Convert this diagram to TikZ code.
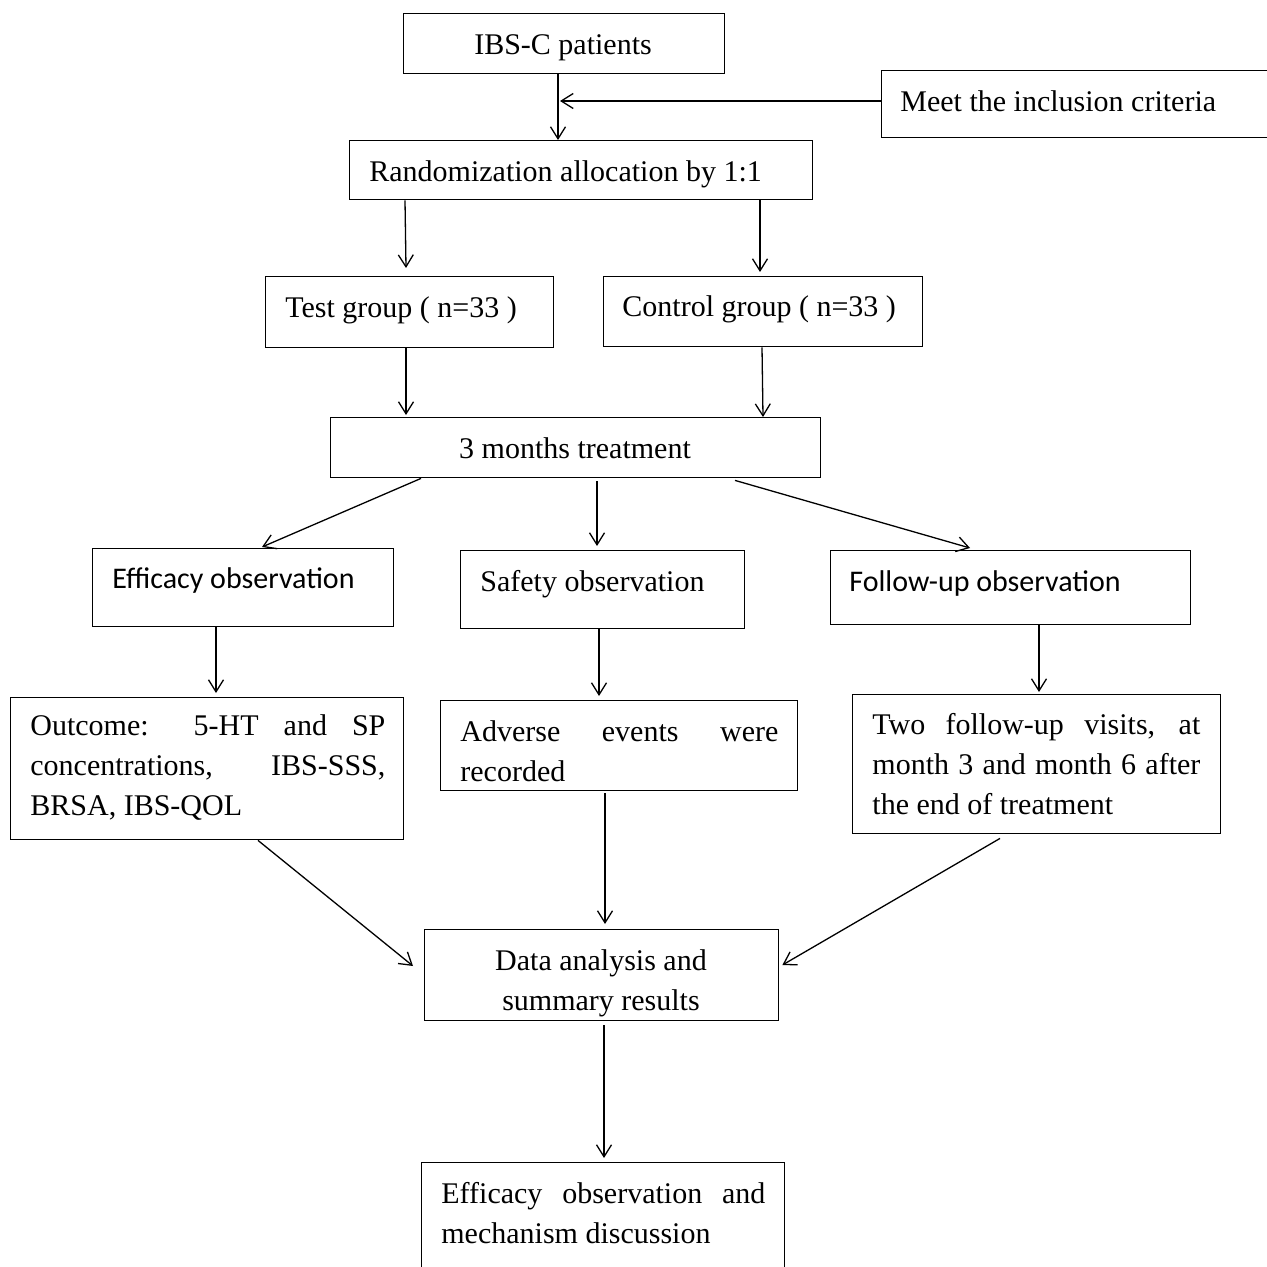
\documentclass[tikz,border=0pt]{standalone}
\usepackage{fontspec}
\setmainfont{Liberation Serif}
\newfontfamily\calib{Carlito}
\usetikzlibrary{arrows.meta,calc}
\begin{document}
\begin{tikzpicture}[x=0.5pt,y=-0.5pt,
  box/.style={draw,line width=0.7pt,inner sep=0pt,anchor=north west},
  txt/.style={inner sep=0pt,font=\fontsize{15pt}{20pt}\selectfont},
  arr/.style={line width=0.65pt,-{Straight Barb[length=6pt,width=7.5pt,line width=0.65pt]}}]
\useasboundingbox (0,0) rectangle (1266,1267);
% boxes
\node[box,minimum width=160.5pt,minimum height=30pt] (pat) at (403,13) {};
\node[box,minimum width=210pt,minimum height=33.5pt] (inc) at (881,70) {};
\node[box,minimum width=231.5pt,minimum height=29.5pt] (rand) at (349,140) {};
\node[box,minimum width=144pt,minimum height=35.5pt] (test) at (265,276) {};
\node[box,minimum width=159.5pt,minimum height=35pt] (ctrl) at (603,276) {};
\node[box,minimum width=245pt,minimum height=30pt] (treat) at (330,417) {};
\node[box,minimum width=150.5pt,minimum height=39pt] (eff) at (92,548) {};
\node[box,minimum width=142pt,minimum height=39pt] (saf) at (460,550) {};
\node[box,minimum width=180pt,minimum height=37pt] (fol) at (830,550) {};
\node[box,minimum width=196.5pt,minimum height=71pt] (out) at (10,697) {};
\node[box,minimum width=178.5pt,minimum height=45pt] (adv) at (440,700) {};
\node[box,minimum width=184pt,minimum height=69.5pt] (two) at (852,694) {};
\node[box,minimum width=177pt,minimum height=45.5pt] (data) at (424,929) {};
\node[box,minimum width=181.5pt,minimum height=60pt] (fin) at (421,1162) {};
% texts
\node[txt,anchor=base] (tpat) at (563,55) {IBS-C patients};
\node[txt,anchor=base west] (tinc) at (900,112) {Meet the inclusion criteria};
\node[txt,anchor=base west] (trand) at (369,182) {Randomization allocation by 1:1};
\node[txt,anchor=base west] (ttest) at (285,318) {Test group ( n=33 )};
\node[txt,anchor=base west] (tctrl) at (622,316) {Control group ( n=33 )};
\node[txt,anchor=base] (ttreat) at (575,458) {3 months treatment};
\node[txt,anchor=base west,font=\calib\fontsize{15pt}{20pt}\selectfont] (teff) at (112,588) {Efficacy observation};
\node[txt,anchor=base west] (tsaf) at (480,591) {Safety observation};
\node[txt,anchor=base west,font=\calib\fontsize{15pt}{20pt}\selectfont] (tfol) at (849,591) {Follow-up observation};
\node[txt,anchor=base west] (tout) at (30,735) {\parbox[t]{177.5pt}{\makebox[177.5pt][s]{Outcome: 5-HT and SP}\\
  \makebox[177.5pt][s]{concentrations, IBS-SSS,}\\BRSA, IBS-QOL}};
\node[txt,anchor=base west] (tadv) at (460,741) {\parbox[t]{159pt}{\makebox[159pt][s]{Adverse events were}\\recorded}};
\node[txt,anchor=base west] (ttwo) at (872,734) {\parbox[t]{164pt}{\makebox[164pt][s]{Two follow-up visits, at}\\
  \makebox[164pt][s]{month 3 and month 6 after}\\the end of treatment}};
\node[txt,anchor=base] (tdata) at (601,970) {\parbox[t]{170pt}{\centering Data analysis and\\summary results}};
\node[txt,anchor=base west] (tfin) at (441,1203) {\parbox[t]{162pt}{\makebox[162pt][s]{Efficacy observation and}\\mechanism discussion}};
% connectors
\coordinate (j1) at (560,101);
\draw[arr] ($(pat.south west)+(155,0)$) -- ($(rand.north west)+(209,0)$);
\draw[arr] ($(inc.north west)+(0,31)$) -- (j1);
\draw[arr] ($(rand.south west)+(56,0)$) -- ($(test.north west)+(141,-8)$);
\draw[arr] ($(rand.south west)+(411,0)$) -- ($(ctrl.north west)+(157,-4)$);
\draw[arr] ($(test.south west)+(141,0)$) -- ($(treat.north west)+(76,-2)$);
\draw[arr] ($(ctrl.south west)+(159,0)$) -- ($(treat.north west)+(433,0)$);
\draw[arr] ($(treat.south west)+(91,0)$) -- ($(eff.north west)+(170,-1)$);
\draw[arr] ($(treat.south west)+(267,3)$) -- ($(saf.north west)+(137,-4)$);
\draw[arr] ($(treat.south west)+(405,2)$) -- ($(fol.north west)+(140,-2)$);
\draw[arr] ($(eff.south west)+(124,0)$) -- ($(out.north west)+(206,-4)$);
\draw[arr] ($(saf.south west)+(139,0)$) -- ($(adv.north west)+(159,-4)$);
\draw[arr] ($(fol.south west)+(209,0)$) -- ($(two.north west)+(187,-2)$);
\draw[arr] ($(out.south west)+(248,0)$) -- ($(data.north west)+(-11,37)$);
\draw[arr] ($(adv.south west)+(165,2)$) -- ($(data.north west)+(181,-5)$);
\draw[arr] ($(two.south west)+(148,4)$) -- ($(data.north east)+(3,36)$);
\draw[arr] ($(data.south west)+(180,4)$) -- ($(fin.north west)+(183,-4)$);
\end{tikzpicture}
\end{document}
